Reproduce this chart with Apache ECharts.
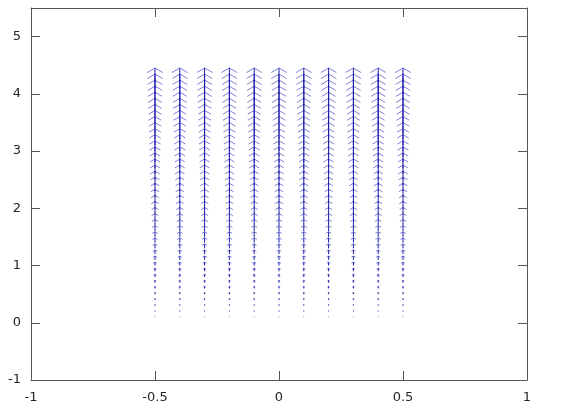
<!DOCTYPE html>
<html>
<head>
<meta charset="utf-8">
<script src="https://cdn.jsdelivr.net/npm/echarts@6/dist/echarts.min.js"></script>
<style>
  html, body { margin: 0; padding: 0; background: #fff; }
  #quiver { width: 564px; height: 405px; }
</style>
</head>
<body>
<div id="quiver"></div>
<script>
// grid columns (x) and rows (y) of the quiver plot
var xs = [-0.5, -0.4, -0.3, -0.2, -0.1, 0, 0.1, 0.2, 0.3, 0.4, 0.5];
var ys = [0, 0.1, 0.2, 0.3, 0.4, 0.5, 0.6, 0.7, 0.8, 0.9,
          1.0, 1.1, 1.2, 1.3, 1.4, 1.5, 1.6, 1.7, 1.8, 1.9,
          2.0, 2.1, 2.2, 2.3, 2.4, 2.5, 2.6, 2.7, 2.8, 2.9,
          3.0, 3.1, 3.2, 3.3, 3.4, 3.5, 3.6, 3.7, 3.8, 3.9,
          4.0, 4.1, 4.2];
// vector components per row (u = 0, v grows with the row)
var us = [0, 0, 0, 0, 0, 0, 0, 0, 0, 0,
          0, 0, 0, 0, 0, 0, 0, 0, 0, 0,
          0, 0, 0, 0, 0, 0, 0, 0, 0, 0,
          0, 0, 0, 0, 0, 0, 0, 0, 0, 0,
          0, 0, 0];
var vs = [0, 0.1, 0.2, 0.3, 0.4, 0.5, 0.6, 0.7, 0.8, 0.9,
          1.0, 1.1, 1.2, 1.3, 1.4, 1.5, 1.6, 1.7, 1.8, 1.9,
          2.0, 2.1, 2.2, 2.3, 2.4, 2.5, 2.6, 2.7, 2.8, 2.9,
          3.0, 3.1, 3.2, 3.3, 3.4, 3.5, 3.6, 3.7, 3.8, 3.9,
          4.0, 4.1, 4.2];
var xTicks = [-1, -0.5, 0, 0.5, 1];
var yTicks = [-1, 0, 1, 2, 3, 4, 5];

var arrowScale = 0.06;   // autoscale of the vectors
var headLen = 0.32;      // head length, share of arrow
var headWid = 0.125;     // head half width (x units), share of arrow

var data = [];
for (var i = 0; i < ys.length; i++) {
  for (var j = 0; j < xs.length; j++) {
    data.push([xs[j], ys[i], us[i], vs[i]]);
  }
}

var myChart = echarts.init(document.getElementById("quiver"));

var labelFont = {
  color: "#262626",
  fontFamily: "DejaVu Sans",
  fontSize: 13
};

function renderArrow(params, api) {
  var x = api.value(0), y = api.value(1);
  var u = api.value(2) * arrowScale, v = api.value(3) * arrowScale;
  var len = Math.sqrt(u * u + v * v);
  if (len === 0) return null;
  var tail = api.coord([x, y]);
  var tip = api.coord([x + u, y + v]);
  var bx = x + u * (1 - headLen), by = y + v * (1 - headLen);
  var left = api.coord([bx - v * headWid, by + u * headWid]);
  var right = api.coord([bx + v * headWid, by - u * headWid]);
  return {
    type: "group",
    children: [
      { type: "line", shape: { x1: tail[0], y1: tail[1], x2: tip[0], y2: tip[1] },
        style: { stroke: "#1a1aa8", lineWidth: 1, fill: null } },
      { type: "polyline", shape: { points: [left, tip, right] },
        style: { stroke: "#4848c8", lineWidth: 0.7, fill: null } }
    ]
  };
}

var axisLine = { show: true, onZero: false, lineStyle: { color: "#555", width: 1 } };
var axisTick = { show: true, inside: true, length: 9, lineStyle: { color: "#555" } };

var option = {
  animation: false,
  grid: { left: 31, right: 37, top: 8, bottom: 25 },
  xAxis: [
    {
      type: "value", min: xTicks[0], max: xTicks[xTicks.length - 1], interval: 0.5,
      position: "bottom",
      axisLine: axisLine, axisTick: axisTick, splitLine: { show: false },
      axisLabel: Object.assign({ margin: 11 }, labelFont)
    },
    {
      type: "value", min: xTicks[0], max: xTicks[xTicks.length - 1], interval: 0.5,
      position: "top",
      axisLine: axisLine, axisTick: axisTick, splitLine: { show: false },
      axisLabel: { show: false }
    }
  ],
  yAxis: [
    {
      type: "value", min: yTicks[0], max: 5.5, interval: 1,
      position: "left",
      axisLine: axisLine, axisTick: axisTick, splitLine: { show: false },
      axisLabel: Object.assign({ margin: 10, showMaxLabel: false }, labelFont)
    },
    {
      type: "value", min: yTicks[0], max: 5.5, interval: 1,
      position: "right",
      axisLine: axisLine, axisTick: axisTick, splitLine: { show: false },
      axisLabel: { show: false }
    }
  ],
  series: [
    {
      type: "custom",
      renderItem: renderArrow,
      xAxisIndex: 0,
      yAxisIndex: 0,
      encode: { x: 0, y: 1 },
      data: data
    }
  ]
};
myChart.setOption(option);
</script>
</body>
</html>
